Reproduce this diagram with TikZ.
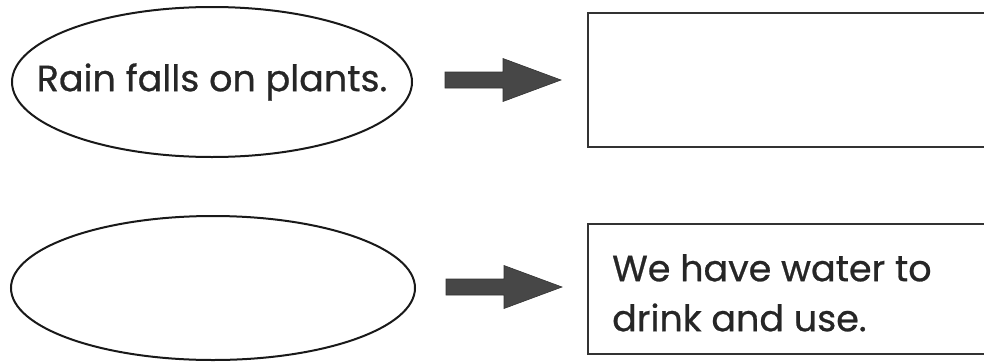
\documentclass[tikz,border=0pt]{standalone}
\usepackage{fontspec}
\setmainfont{Poppins}[FakeBold=0.7]
\usetikzlibrary{shapes.geometric}
\begin{document}
\begin{tikzpicture}[x=1pt,y=-1pt,
  oval/.style={draw=black!90, line width=2pt, ellipse, inner sep=0pt},
  boxrect/.style={draw=black!80, line width=2.4pt, inner sep=0pt, anchor=north west},
  txt/.style={font=\fontsize{36.5}{50}\selectfont, text=black!85, inner sep=0pt},
  blockarrow/.pic={
    \filldraw[fill=black!72, draw=black!80, line width=0.6pt]
      (0,-8) -- (58,-8) -- (58,-21.5) -- (116,0) -- (58,21.5) -- (58,8) -- (0,8) -- cycle;
  }]
\useasboundingbox (0,0) rectangle (984,362);
% ovals
\node[oval, minimum width=400pt, minimum height=150pt] (e1) at (212,82) {};
\node[txt] (t1) at (e1.center) {Rain falls on plants.};
\node[oval, minimum width=404pt, minimum height=144pt] (e2) at (213,288) {};
% boxes
\node[boxrect, minimum width=430pt, minimum height=134pt] (r1) at (587,12) {};
\node[boxrect, minimum width=430pt, minimum height=130pt] (r2) at (587,223) {};
\node[txt, anchor=north west, align=left] (t2) at (612,254) {We have water to\\drink and use.};
% arrows
\coordinate (a1) at (445,80);
\coordinate (a2) at (446,287);
\pic at (a1) {blockarrow};
\pic at (a2) {blockarrow};
\end{tikzpicture}
\end{document}
